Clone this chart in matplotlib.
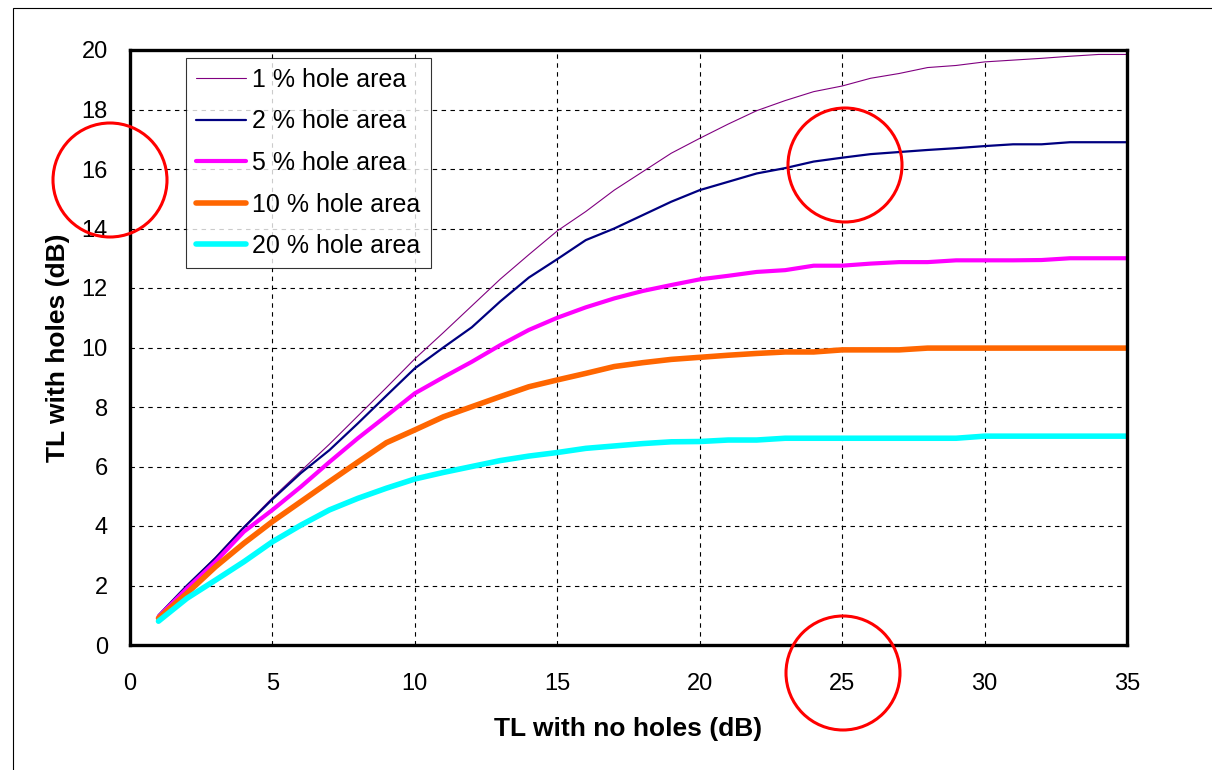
import numpy as np
import matplotlib
matplotlib.use("Agg")
import matplotlib.pyplot as plt
from matplotlib.patches import Ellipse, Rectangle

plt.rcParams['font.family'] = ['Liberation Sans', 'DejaVu Sans']

# TL with no holes (dB)
tl_no_holes = list(range(1, 36))

# TL with holes (dB), one list per hole area
tl_1pct = [1.0, 2.0, 2.95, 3.98, 4.95, 5.85, 6.75, 7.7, 8.65, 9.62,
           10.5, 11.4, 12.3, 13.12, 13.92, 14.57, 15.29, 15.91, 16.53, 17.03,
           17.51, 17.96, 18.3, 18.6, 18.79, 19.05, 19.21, 19.41, 19.48, 19.6,
           19.66, 19.72, 19.79, 19.85, 19.85]
tl_2pct = [1.0, 2.0, 2.92, 3.95, 4.9, 5.78, 6.55, 7.45, 8.38, 9.3,
           10.0, 10.68, 11.55, 12.35, 12.97, 13.61, 14.0, 14.45, 14.9, 15.29,
           15.57, 15.85, 16.03, 16.25, 16.38, 16.5, 16.57, 16.64, 16.7, 16.77,
           16.83, 16.83, 16.9, 16.9, 16.9]
tl_5pct = [0.95, 1.9, 2.8, 3.81, 4.54, 5.32, 6.15, 6.95, 7.7, 8.46,
           9.0, 9.52, 10.08, 10.59, 11.0, 11.35, 11.65, 11.9, 12.1, 12.29,
           12.41, 12.54, 12.6, 12.75, 12.75, 12.82, 12.87, 12.87, 12.93, 12.93,
           12.93, 12.94, 13.0, 13.0, 13.0]
tl_10pct = [0.9, 1.74, 2.63, 3.42, 4.15, 4.82, 5.49, 6.15, 6.8, 7.23,
            7.67, 8.01, 8.35, 8.68, 8.91, 9.13, 9.36, 9.49, 9.6, 9.67,
            9.74, 9.8, 9.85, 9.85, 9.92, 9.92, 9.92, 9.98, 9.98, 9.98,
            9.98, 9.98, 9.98, 9.98, 9.98]
tl_20pct = [0.8, 1.57, 2.18, 2.8, 3.47, 4.03, 4.54, 4.93, 5.27, 5.58,
            5.8, 6.0, 6.2, 6.35, 6.47, 6.61, 6.69, 6.77, 6.83, 6.84,
            6.89, 6.89, 6.95, 6.95, 6.95, 6.95, 6.95, 6.95, 6.95, 7.02,
            7.02, 7.02, 7.02, 7.02, 7.02]

labels = ['1 % hole area', '2 % hole area', '5 % hole area',
          '10 % hole area', '20 % hole area']

series = [tl_1pct, tl_2pct, tl_5pct, tl_10pct, tl_20pct]
colors = ['#800080', '#000080', '#FF00FF', '#FF6600', '#00FFFF']
widths = [0.8, 1.6, 3.0, 4.0, 4.0]

fig = plt.figure(figsize=(12.12, 7.7), dpi=100)
ax = fig.add_axes([130/1212, 125/770, 997/1212, 595/770])

for ys, c, lw, lab in zip(series, colors, widths, labels):
    ax.plot(tl_no_holes, ys, color=c, lw=lw, label=lab,
            solid_capstyle='round', solid_joinstyle='round', zorder=3)

ax.set_xlim(0, 35)
ax.set_ylim(0, 20)
ax.set_xticks(np.arange(0, 36, 5))
ax.set_yticks(np.arange(0, 21, 2))
ax.tick_params(length=0, labelsize=17)
ax.tick_params(axis='x', pad=20)
ax.tick_params(axis='y', pad=16)
ax.grid(True, color='black', lw=0.8, linestyle=(0, (4, 4)))
for s in ax.spines.values():
    s.set_linewidth(2.4)
    s.set_zorder(5)

ax.set_xlabel('TL with no holes (dB)', fontsize=19, fontweight='bold', labelpad=16)
ax.set_ylabel('TL with holes (dB)', fontsize=19, fontweight='bold', labelpad=8)

leg = ax.legend(loc='upper left', bbox_to_anchor=(56/997, 1 - 8/595),
                fontsize=18, frameon=True, fancybox=False, edgecolor='black',
                handlelength=2.0, handletextpad=0.25, labelspacing=0.7,
                borderpad=0.4, borderaxespad=0)
leg.get_frame().set_linewidth(0.8)

# outer border of the picture
fig.patches.append(Rectangle((13/1212, -0.1), 1.2, 1.1 - 8/770,
                             transform=fig.transFigure, fill=False,
                             edgecolor='black', lw=0.8))

# red highlight circles
for cx, cy in [(110, 180), (845, 165), (843, 673)]:
    fig.patches.append(Ellipse((cx/1212, 1 - cy/770), 114/1212, 114/770,
                               transform=fig.transFigure, fill=False,
                               edgecolor='red', lw=2.2, zorder=10))

fig.savefig('out.png', dpi=100)
